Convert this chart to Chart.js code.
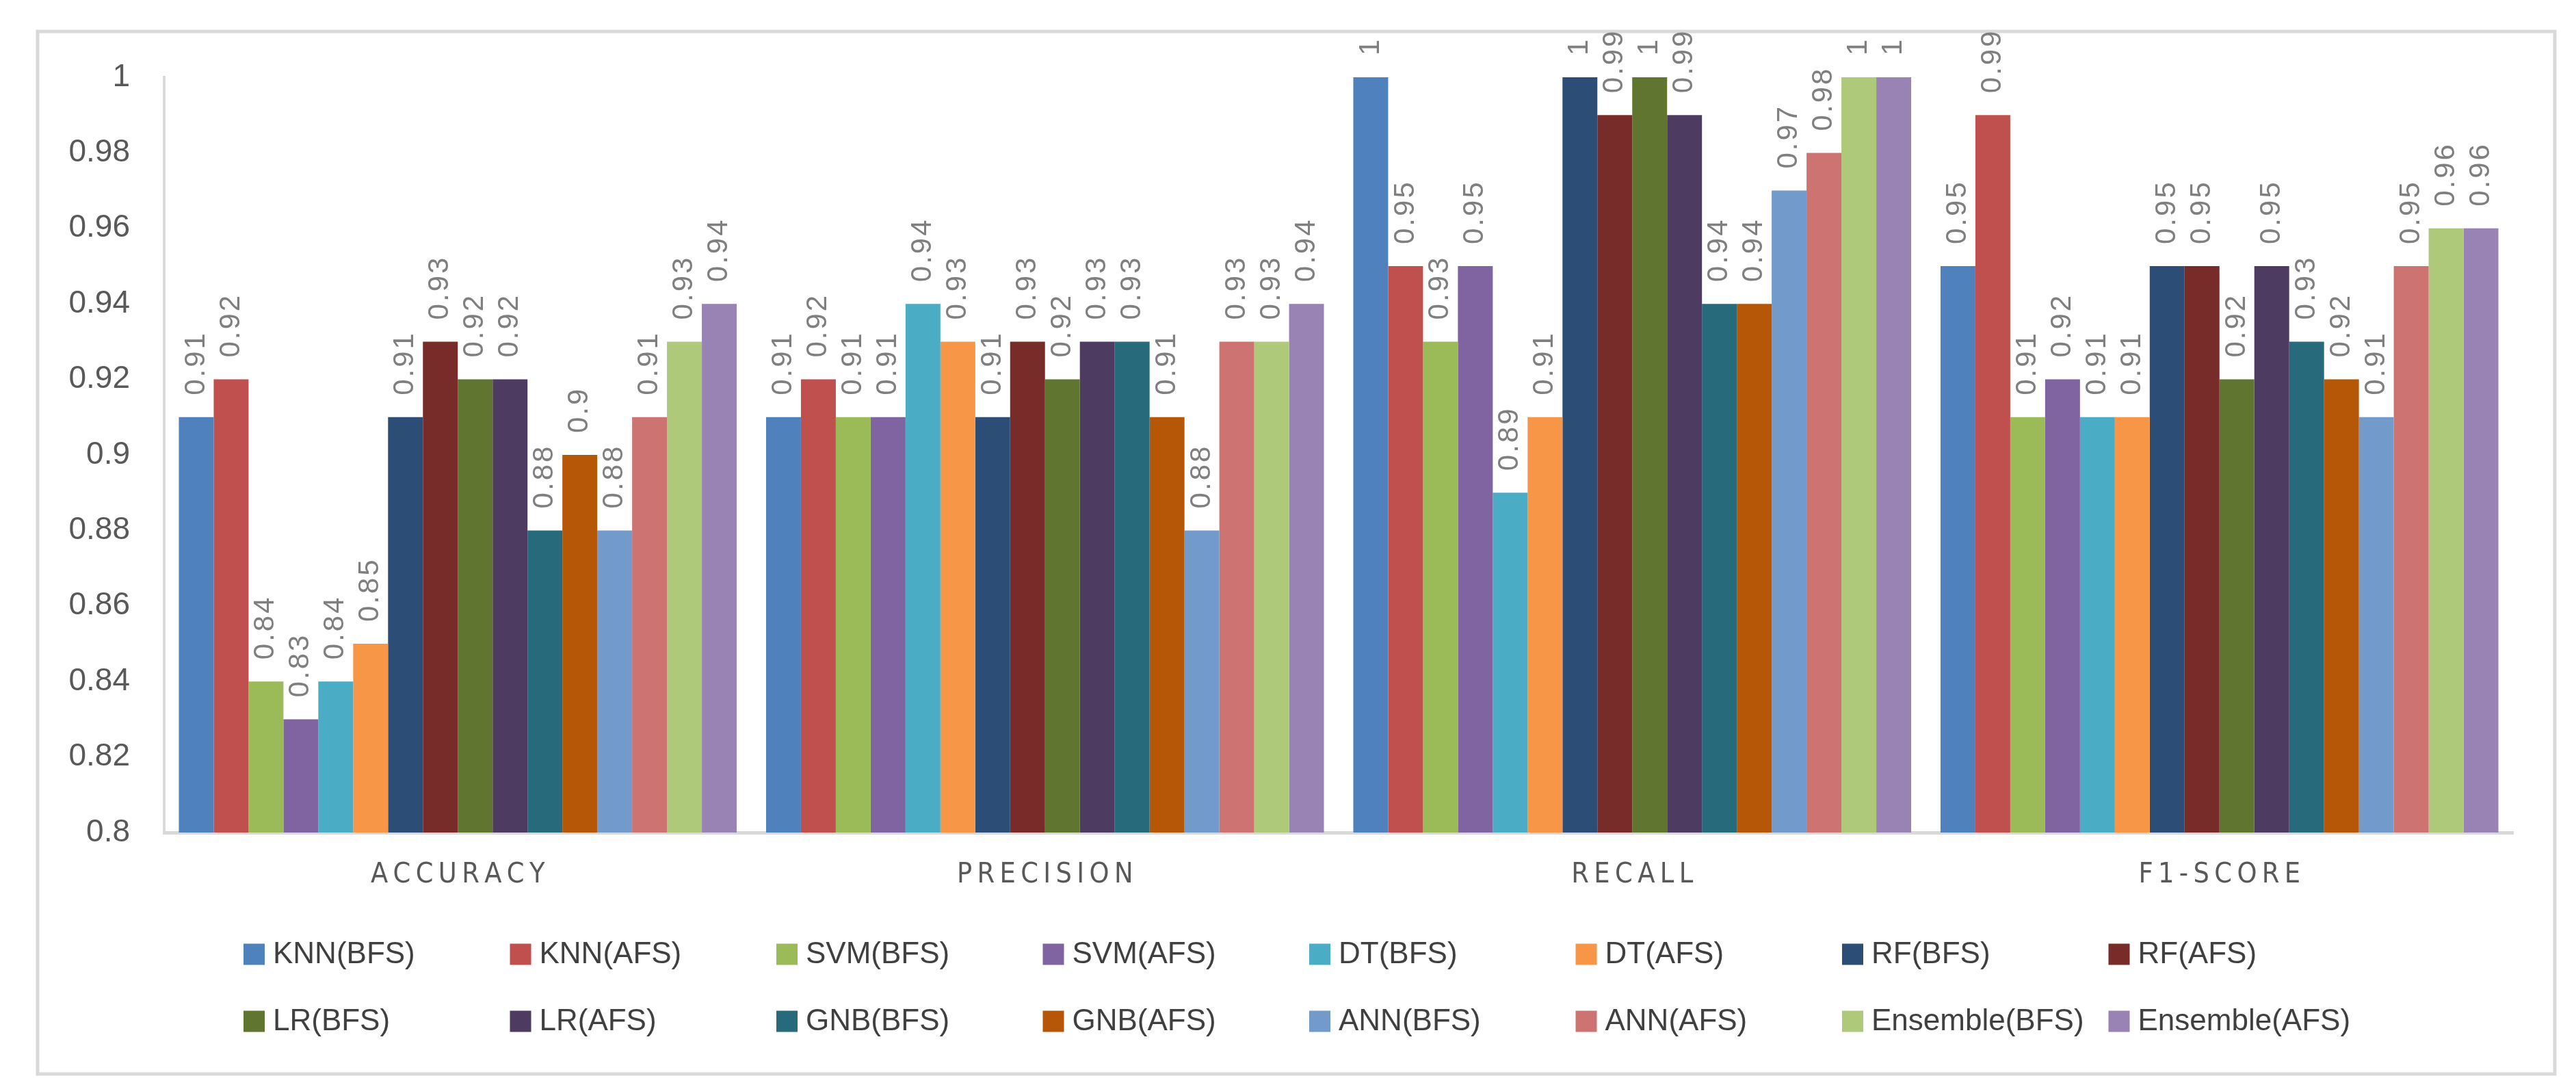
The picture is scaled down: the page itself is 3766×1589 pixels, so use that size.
<!DOCTYPE html>
<html>
<head>
<meta charset="utf-8">
<script src="https://cdn.jsdelivr.net/npm/chart.js@4"></script>
<style>
html,body{margin:0;padding:0;background:#fff;}
canvas{display:block;}
</style>
</head>
<body>
<canvas id="c" width="3766" height="1589" style="width:3766px;height:1589px"></canvas>
<script>
const categories = ['ACCURACY', 'PRECISION', 'RECALL', 'F1-SCORE'];
const seriesNames = ['KNN(BFS)','KNN(AFS)','SVM(BFS)','SVM(AFS)','DT(BFS)','DT(AFS)','RF(BFS)','RF(AFS)',
                     'LR(BFS)','LR(AFS)','GNB(BFS)','GNB(AFS)','ANN(BFS)','ANN(AFS)','Ensemble(BFS)','Ensemble(AFS)'];
const seriesColors = ['#4F81BD','#C0504D','#9BBB59','#8064A2','#4BACC6','#F79646','#2C4D75','#772C2A',
                      '#5F7530','#4D3B62','#276A7C','#B65708','#729ACA','#CD7371','#AFC97A','#9983B5'];
// values per series: [accuracy, precision, recall, f1-score]
const knnBFS = [0.91, 0.91, 1, 0.95];
const knnAFS = [0.92, 0.92, 0.95, 0.99];
const svmBFS = [0.84, 0.91, 0.93, 0.91];
const svmAFS = [0.83, 0.91, 0.95, 0.92];
const dtBFS  = [0.84, 0.94, 0.89, 0.91];
const dtAFS  = [0.85, 0.93, 0.91, 0.91];
const rfBFS  = [0.91, 0.91, 1, 0.95];
const rfAFS  = [0.93, 0.93, 0.99, 0.95];
const lrBFS  = [0.92, 0.92, 1, 0.92];
const lrAFS  = [0.92, 0.93, 0.99, 0.95];
const gnbBFS = [0.88, 0.93, 0.94, 0.93];
const gnbAFS = [0.9, 0.91, 0.94, 0.92];
const annBFS = [0.88, 0.88, 0.97, 0.91];
const annAFS = [0.91, 0.93, 0.98, 0.95];
const ensBFS = [0.93, 0.93, 1, 0.96];
const ensAFS = [0.94, 0.94, 1, 0.96];
const seriesValues = [knnBFS, knnAFS, svmBFS, svmAFS, dtBFS, dtAFS, rfBFS, rfAFS,
                      lrBFS, lrAFS, gnbBFS, gnbAFS, annBFS, annAFS, ensBFS, ensAFS];
const yTickValues = [0.8, 0.82, 0.84, 0.86, 0.88, 0.9, 0.92, 0.94, 0.96, 0.98, 1];

const FONT = "'Liberation Sans', Arial, sans-serif";
const COND = "'DejaVu Sans Condensed', 'Liberation Sans', sans-serif";

const frame = {
  id: 'frame',
  beforeDraw(chart) {
    const ctx = chart.ctx;
    ctx.save();
    ctx.fillStyle = '#fff';
    ctx.fillRect(0, 0, chart.width, chart.height);
    ctx.strokeStyle = '#d9d9d9';
    ctx.lineWidth = 5;
    ctx.strokeRect(55, 46, 3680, 1524);
    ctx.restore();
  }
};

const valueLabels = {
  id: 'valueLabels',
  afterDatasetsDraw(chart) {
    const ctx = chart.ctx;
    ctx.save();
    ctx.font = '42px ' + FONT;
    ctx.fillStyle = '#7f7f7f';
    try { ctx.letterSpacing = '3px'; } catch (e) {}
    ctx.textAlign = 'left';
    ctx.textBaseline = 'middle';
    chart.data.datasets.forEach((ds, di) => {
      const meta = chart.getDatasetMeta(di);
      meta.data.forEach((bar, i) => {
        ctx.save();
        ctx.translate(bar.x, bar.y - 32);
        ctx.rotate(-Math.PI / 2);
        ctx.fillText(String(ds.data[i]), 0, 0);
        ctx.restore();
      });
    });
    ctx.restore();
  }
};

const customLegend = {
  id: 'customLegend',
  afterDraw(chart) {
    const ctx = chart.ctx;
    const left = chart.chartArea.left + 116;
    const pitch = 389.5;
    const rows = [1395, 1493];
    ctx.save();
    ctx.font = '44px ' + FONT;
    ctx.textBaseline = 'middle';
    ctx.textAlign = 'left';
    chart.data.datasets.forEach((ds, i) => {
      const col = i % 8, row = Math.floor(i / 8);
      const x = left + col * pitch, y = rows[row];
      ctx.fillStyle = ds.backgroundColor;
      ctx.fillRect(x, y - 15.5, 31, 31);
      ctx.fillStyle = '#404040';
      ctx.fillText(ds.label, x + 43, y + 1);
    });
    ctx.restore();
  }
};

const datasets = seriesNames.map((name, i) => ({
  label: name,
  data: seriesValues[i],
  backgroundColor: seriesColors[i],
  borderWidth: 0,
  categoryPercentage: 0.95,
  barPercentage: 1.0
}));

new Chart(document.getElementById('c'), {
  type: 'bar',
  data: { labels: categories.map(c => c.split('').join('\u2009')), datasets },
  options: {
    responsive: false,
    animation: false,
    devicePixelRatio: 1,
    layout: { padding: { left: 0, top: 113, right: 92, bottom: 0 } },
    plugins: { legend: { display: false }, tooltip: { enabled: false } },
    scales: {
      x: {
        grid: { display: false, drawTicks: false },
        border: { display: true, color: '#d9d9d9', width: 5 },
        ticks: { color: '#595959', font: { family: COND, size: 41 }, padding: 38, maxRotation: 0 },
        afterFit(s) { s.height = 1589 - 1217; }
      },
      y: {
        min: 0.8, max: 1,
        grid: { display: false, drawTicks: false },
        border: { display: true, color: '#d9d9d9', width: 4 },
        afterBuildTicks(s) { s.ticks = yTickValues.map(v => ({ value: v })); },
        ticks: { color: '#595959', font: { family: FONT, size: 46 }, padding: 50,
                 callback: v => String(v) },
        afterFit(s) { s.width = 240; }
      }
    }
  },
  plugins: [frame, valueLabels, customLegend]
});
</script>
</body>
</html>
